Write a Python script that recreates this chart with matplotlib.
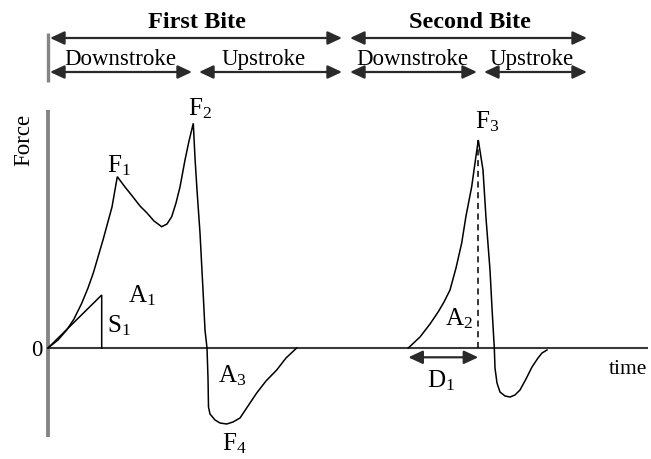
import matplotlib
matplotlib.use("Agg")
import matplotlib.pyplot as plt

plt.rcParams["font.family"] = ["Liberation Serif", "DejaVu Serif"]
plt.rcParams["mathtext.fontset"] = "custom"
plt.rcParams["mathtext.rm"] = "Liberation Serif"
plt.rcParams["mathtext.it"] = "Liberation Serif:italic"

# ---- force-time curve, first bite ----
bite1_time = [0, 10, 18.7, 26, 33.7, 40, 45.3, 55, 64, 69.3,
              77, 85, 92, 99, 106, 113.7, 119, 123.7, 128, 132, 137, 141, 145.3,
              147, 149, 152, 155, 157, 159, 160, 160.5,
              162, 167, 172, 178.7, 185, 192, 200, 208.7, 218, 228.7, 238, 248.7]
bite1_force = [0, 8, 18, 29, 44.7, 60, 75, 108, 141, 171.3,
               161, 151, 142, 135, 127, 121.3, 124, 131.3, 145, 161, 188, 207, 224.7,
               190, 158, 115, 58, 18, 0, -30, -59,
               -66, -72, -75, -76, -74, -70, -58, -45, -33, -22, -10, 0]

# ---- force-time curve, second bite ----
bite2_time = [360.3, 372, 382, 390.3, 396, 402, 408, 413.7, 418, 423.7, 427, 430.3,
              435, 438, 442, 444, 446.3, 447, 449, 452, 457, 462, 467, 472, 478, 484,
              490, 494, 499]
bite2_force = [0, 11, 24, 36.3, 46, 58, 80, 105, 132, 161.3, 185, 208,
               178, 130, 78, 40, 0, -20, -35, -44, -48, -49, -47, -42, -31, -19,
               -10, -5, -2]

# initial slope triangle S1
slope_time = [0, 53.7, 53.7]
slope_force = [0, 53, 0]

# peak labels
peak_labels = [r"$\mathrm{F}_1$", r"$\mathrm{F}_2$", r"$\mathrm{F}_3$", r"$\mathrm{F}_4$"]
peak_pos = [(59, 176), (140, 233), (427, 220), (174, -102)]
area_labels = [r"$\mathrm{A}_1$", r"$\mathrm{S}_1$", r"$\mathrm{A}_3$", r"$\mathrm{A}_2$", r"$\mathrm{D}_1$"]
area_pos = [(80, 46), (59, 16), (170, -34), (397, 23), (379, -39)]

# phase annotations along the top
bite_names = ["First Bite", "Second Bite"]
bite_spans = [(0, 294), (300, 539)]
stroke_names = ["Downstroke", "Upstroke", "Downstroke", "Upstroke"]
stroke_spans = [(0, 144), (149, 294), (300, 429), (434, 539)]
stroke_text_x = [72, 216, 364, 484]

fig = plt.figure(figsize=(6.51, 4.59), dpi=100)
ax = fig.add_axes([0, 0, 1, 1])
ax.set_xlim(-48, 603)
ax.set_ylim(-111, 348)
ax.axis("off")

# axes
ax.plot([0, 0], [-89, 238], color="#858585", lw=2.8, solid_capstyle="butt", zorder=1)
ax.plot([0, 600], [0, 0], color="#3a3a3a", lw=1.5, solid_capstyle="butt", zorder=1)
ax.text(-24, 208, "Force", rotation=90, ha="center", va="center", fontsize=16.5)
ax.text(-11, -2, "0", ha="center", va="center", fontsize=16.5)
ax.text(580, -22, "time", ha="center", va="center", fontsize=15.5)

# curves
kw = dict(color="black", lw=1.1, solid_joinstyle="miter", zorder=3)
ax.plot(bite1_time, bite1_force, **kw)
ax.plot(bite2_time, bite2_force, **kw)
ax.plot(slope_time, slope_force, **kw)
ax.plot([bite2_time[11], bite2_time[11]], [0, bite2_force[11]], color="black",
        lw=1.1, ls=(0, (4, 3)), zorder=3)

for lab, (x, y) in zip(peak_labels, peak_pos):
    ax.text(x, y, lab, ha="left", va="baseline", fontsize=18)
for lab, (x, y) in zip(area_labels, area_pos):
    ax.text(x, y, lab, ha="left", va="baseline", fontsize=18)

arrow_kw = dict(arrowstyle="<|-|>,head_length=0.86,head_width=0.4",
                mutation_scale=10, lw=1.6, color="#2a2a2a",
                shrinkA=0, shrinkB=0)

# D1 duration arrow
ax.annotate("", xy=(bite2_time[11], -9.3), xytext=(bite2_time[0], -9.3),
            arrowprops=arrow_kw)

# top phase arrows
for name, (a, b) in zip(bite_names, bite_spans):
    ax.annotate("", xy=(b, 310), xytext=(a + 2, 310), arrowprops=arrow_kw)
    ax.text((a + b) / 2 + 2, 320, name, ha="center", va="baseline",
            fontsize=17.5, fontweight="bold")
for name, (a, b), tx in zip(stroke_names, stroke_spans, stroke_text_x):
    ax.annotate("", xy=(b, 276), xytext=(a + 2, 276), arrowprops=arrow_kw)
    ax.text(tx, 283, name, ha="center", va="baseline", fontsize=16.5)
ax.plot([0, 0], [266, 315], color="#858585", lw=2.4, solid_capstyle="butt")

fig.savefig("out.png", dpi=100)
